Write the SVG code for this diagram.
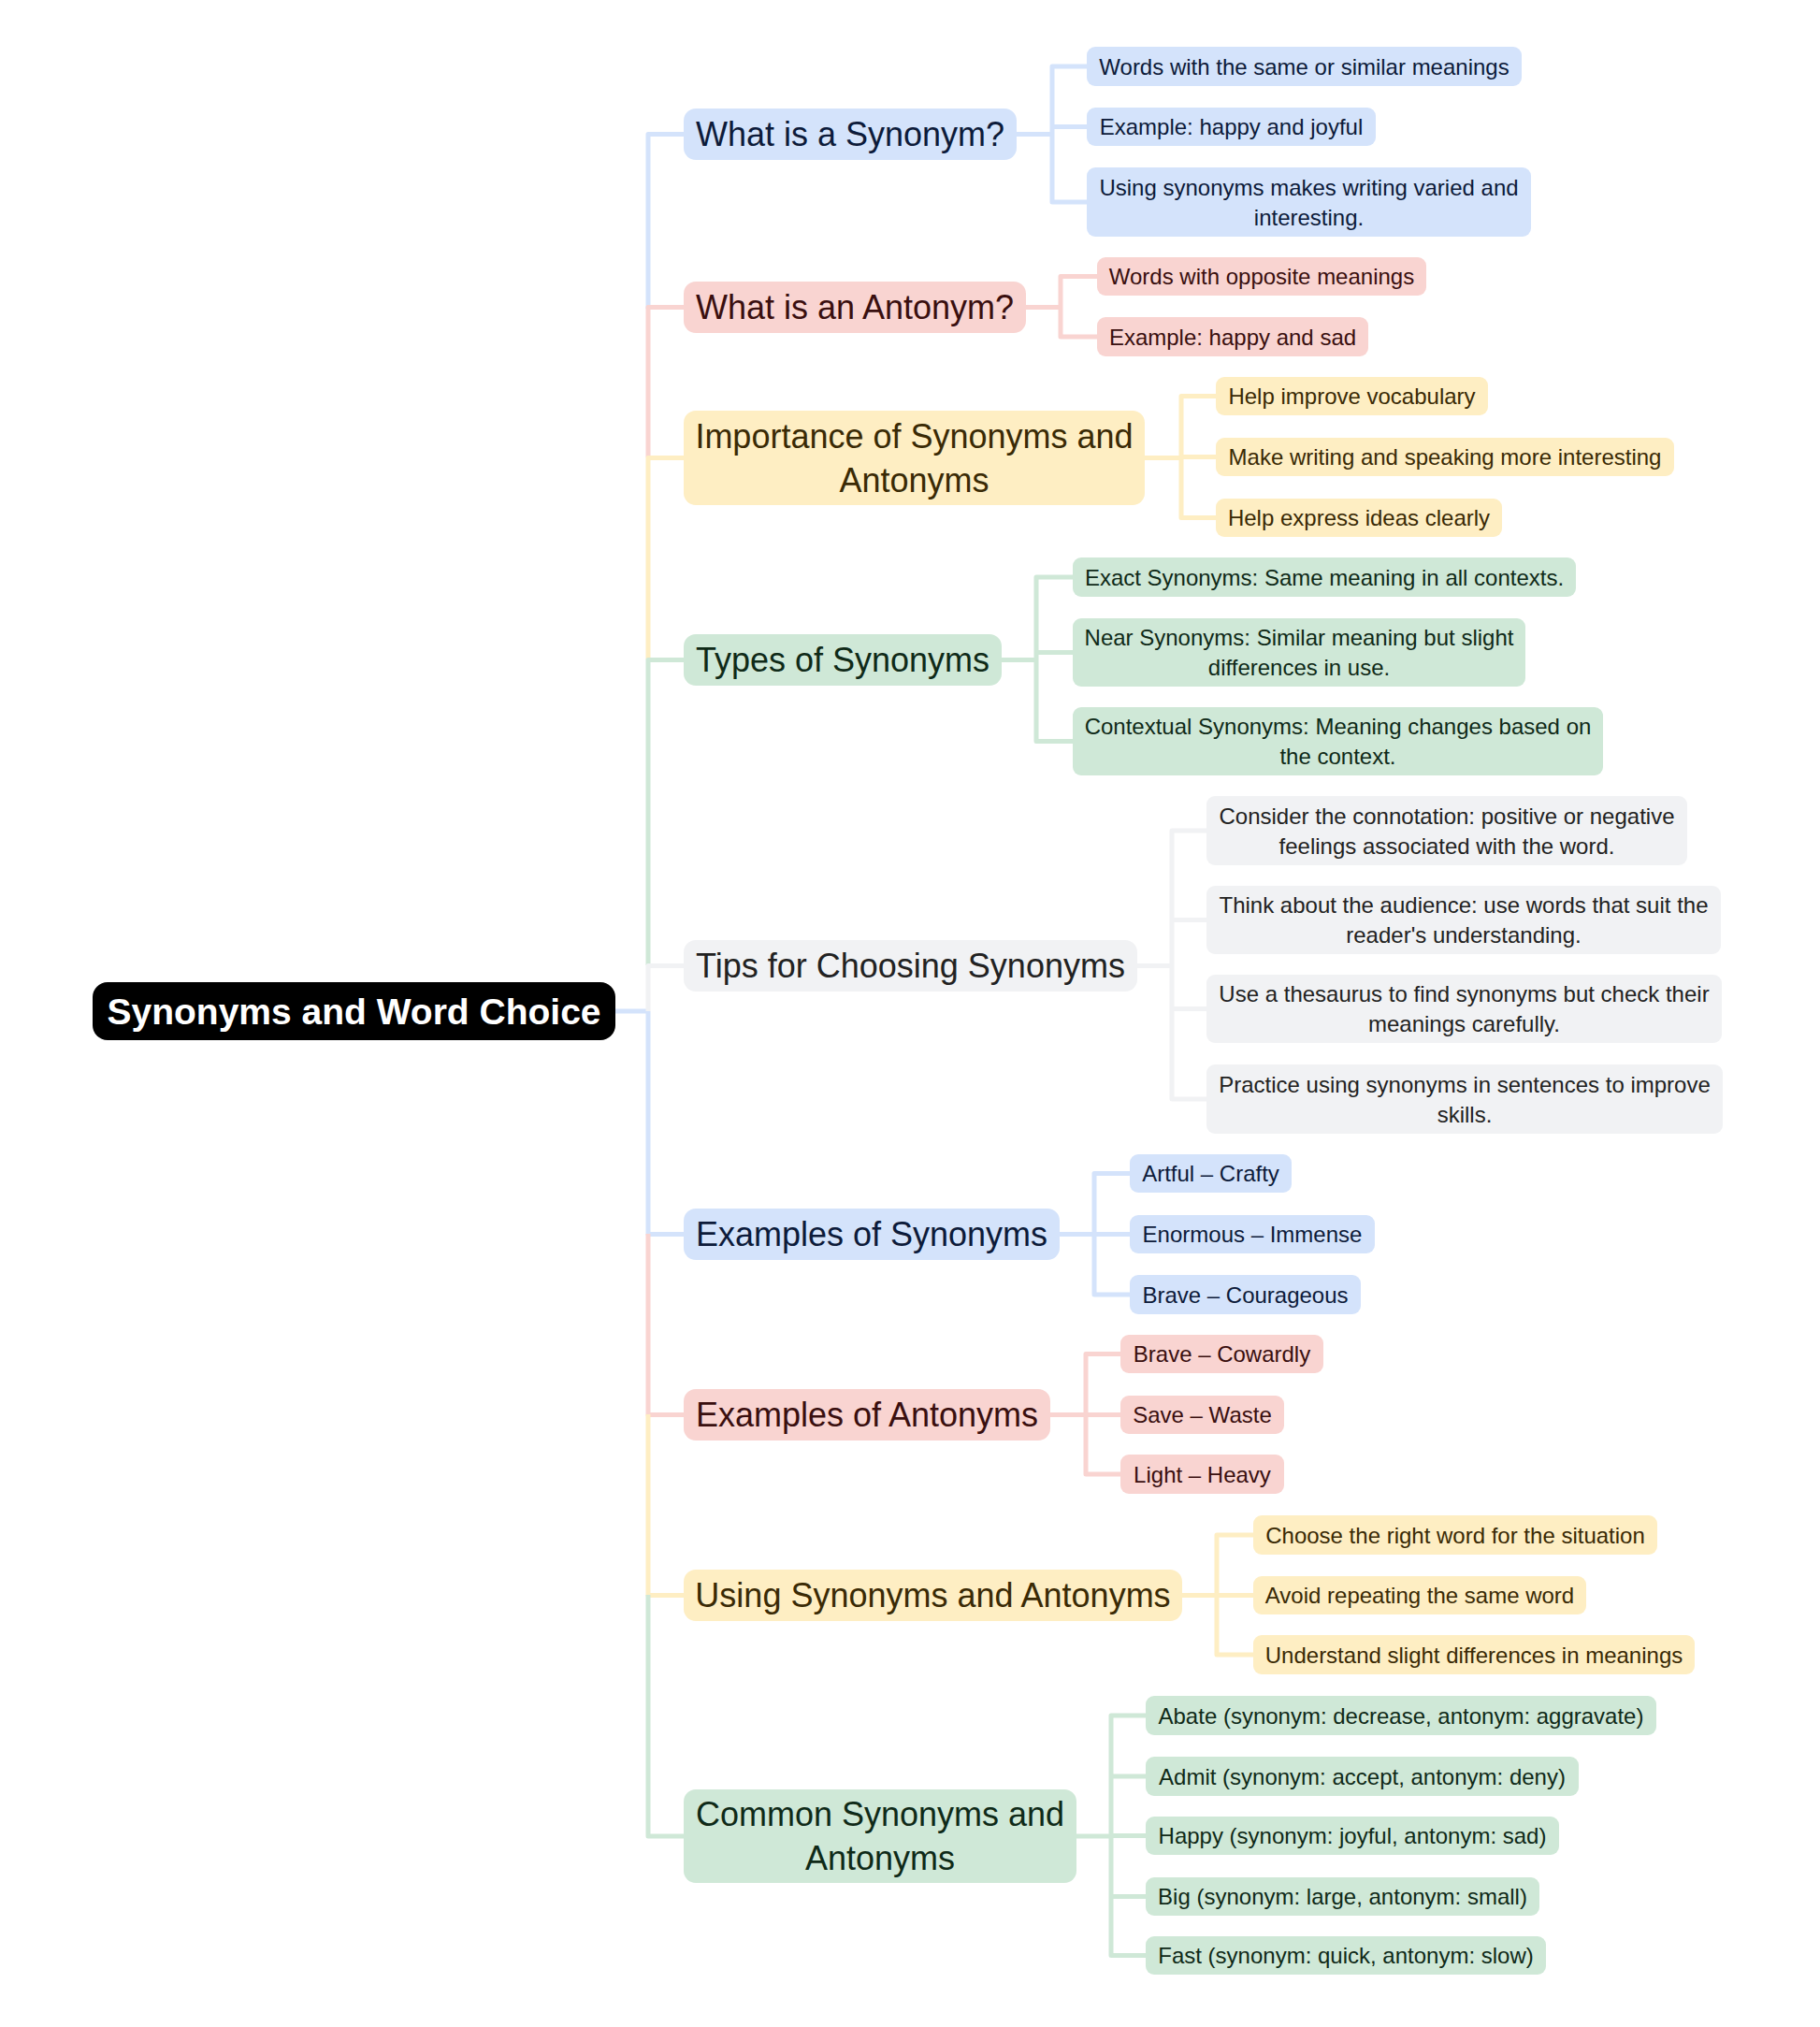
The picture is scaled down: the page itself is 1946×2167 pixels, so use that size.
<svg xmlns="http://www.w3.org/2000/svg" width="1946" height="2167" viewBox="0 0 1946 2167">
<style>
text{font-family:"Liberation Sans",Arial,sans-serif;text-anchor:middle}
.t{font-size:36px}.l{font-size:24px}
.c path{fill:none;stroke-width:5;stroke-linejoin:round}
.b{fill:#d4e3fb}.r{fill:#f9d4d1}.y{fill:#feeec3}.g{fill:#cfe8d7}.k{fill:#f1f2f4}
.bt{fill:#0d1b3a}.rt{fill:#3a0f0f}.yt{fill:#3a2a05}.gt{fill:#0f2a18}.kt{fill:#222}
.sb{stroke:#d4e3fb}.sr{stroke:#f9d4d1}.sy{stroke:#feeec3}.sg{stroke:#cfe8d7}.sk{stroke:#f1f2f4}
</style>
<rect width="1946" height="2167" fill="#fff"/>
<g class="c" id="connectors">
<path class="sb" d="M658 1081H693"/>
<path class="sb" d="M693 330V143.5H731"/>
<path class="sr" d="M693 489V328.5H731"/>
<path class="sy" d="M693 705V489.5H731"/>
<path class="sg" d="M693 1032V705.5H731"/>
<path class="sk" d="M693 1081V1032.5H731"/>
<path class="sb" d="M693 1081V1319.5H731"/>
<path class="sr" d="M693 1319V1512.5H731"/>
<path class="sy" d="M693 1512V1705.5H731"/>
<path class="sg" d="M693 1705V1963H731"/>
<path class="sb" d="M1087 143.5H1125M1162 71H1125V216H1162M1125 135.5H1162"/>
<path class="sr" d="M1097 328.5H1134M1173 295.5H1134V360H1173"/>
<path class="sy" d="M1224 489.5H1263M1300 423.5H1263V553.5H1300M1263 488.5H1300"/>
<path class="sg" d="M1071 705.5H1108M1147 617H1108V792.5H1147M1108 697.5H1147"/>
<path class="sk" d="M1216 1032.5H1253M1290 888H1253V1175H1290M1253 983.5H1290M1253 1078.5H1290"/>
<path class="sb" d="M1133 1319.5H1170M1208 1254.5H1170V1384H1208M1170 1319.5H1208"/>
<path class="sr" d="M1123 1512.5H1161M1198 1447.5H1161V1576H1198M1161 1512.5H1198"/>
<path class="sy" d="M1264 1705.5H1301M1340 1641H1301V1769H1340M1301 1705.5H1340"/>
<path class="sg" d="M1151 1963H1188M1225 1834H1188V2090.5H1225M1188 1899H1225M1188 1962.5H1225M1188 2027.5H1225"/>
</g>
<g id="root"><rect x="99" y="1050" width="559" height="62" rx="16" fill="#000"/><text x="378.5" y="1095" font-size="39" font-weight="bold" fill="#fff">Synonyms and Word Choice</text></g>
<g id="t1"><rect class="b" x="731" y="116" width="356" height="55" rx="13"/><text class="t bt" x="909" y="156">What is a Synonym?</text></g>
<g id="t1a"><rect class="b" x="1162" y="50" width="465" height="42" rx="9"/><text class="l bt" x="1394.5" y="79.5">Words with the same or similar meanings</text></g>
<g id="t1b"><rect class="b" x="1162" y="115" width="309" height="41" rx="9"/><text class="l bt" x="1316.5" y="144">Example: happy and joyful</text></g>
<g id="t1c"><rect class="b" x="1162" y="179" width="475" height="74" rx="9"/><text class="l bt" x="1399.5" y="208.5">Using synonyms makes writing varied and</text><text class="l bt" x="1399.5" y="240.5">interesting.</text></g>
<g id="t2"><rect class="r" x="731" y="301" width="366" height="55" rx="13"/><text class="t rt" x="914" y="341">What is an Antonym?</text></g>
<g id="t2a"><rect class="r" x="1173" y="275" width="352" height="41" rx="9"/><text class="l rt" x="1349" y="304">Words with opposite meanings</text></g>
<g id="t2b"><rect class="r" x="1173" y="339" width="290" height="42" rx="9"/><text class="l rt" x="1318" y="368.5">Example: happy and sad</text></g>
<g id="t3"><rect class="y" x="731" y="439" width="493" height="101" rx="13"/><text class="t yt" x="977.5" y="478.5">Importance of Synonyms and</text><text class="t yt" x="977.5" y="525.5">Antonyms</text></g>
<g id="t3a"><rect class="y" x="1300" y="403" width="291" height="41" rx="9"/><text class="l yt" x="1445.5" y="432">Help improve vocabulary</text></g>
<g id="t3b"><rect class="y" x="1300" y="468" width="490" height="41" rx="9"/><text class="l yt" x="1545" y="497">Make writing and speaking more interesting</text></g>
<g id="t3c"><rect class="y" x="1300" y="533" width="306" height="41" rx="9"/><text class="l yt" x="1453" y="562">Help express ideas clearly</text></g>
<g id="t4"><rect class="g" x="731" y="678" width="340" height="55" rx="13"/><text class="t gt" x="901" y="718">Types of Synonyms</text></g>
<g id="t4a"><rect class="g" x="1147" y="596" width="538" height="42" rx="9"/><text class="l gt" x="1416" y="625.5">Exact Synonyms: Same meaning in all contexts.</text></g>
<g id="t4b"><rect class="g" x="1147" y="661" width="484" height="73" rx="9"/><text class="l gt" x="1389" y="690">Near Synonyms: Similar meaning but slight</text><text class="l gt" x="1389" y="722">differences in use.</text></g>
<g id="t4c"><rect class="g" x="1147" y="756" width="567" height="73" rx="9"/><text class="l gt" x="1430.5" y="785">Contextual Synonyms: Meaning changes based on</text><text class="l gt" x="1430.5" y="817">the context.</text></g>
<g id="t5"><rect class="k" x="731" y="1005" width="485" height="55" rx="13"/><text class="t kt" x="973.5" y="1045">Tips for Choosing Synonyms</text></g>
<g id="t5a"><rect class="k" x="1290" y="851" width="514" height="74" rx="9"/><text class="l kt" x="1547" y="880.5">Consider the connotation: positive or negative</text><text class="l kt" x="1547" y="912.5">feelings associated with the word.</text></g>
<g id="t5b"><rect class="k" x="1290" y="947" width="550" height="73" rx="9"/><text class="l kt" x="1565" y="976">Think about the audience: use words that suit the</text><text class="l kt" x="1565" y="1008">reader's understanding.</text></g>
<g id="t5c"><rect class="k" x="1290" y="1042" width="551" height="73" rx="9"/><text class="l kt" x="1565.5" y="1071">Use a thesaurus to find synonyms but check their</text><text class="l kt" x="1565.5" y="1103">meanings carefully.</text></g>
<g id="t5d"><rect class="k" x="1290" y="1138" width="552" height="74" rx="9"/><text class="l kt" x="1566" y="1167.5">Practice using synonyms in sentences to improve</text><text class="l kt" x="1566" y="1199.5">skills.</text></g>
<g id="t6"><rect class="b" x="731" y="1292" width="402" height="55" rx="13"/><text class="t bt" x="932" y="1332">Examples of Synonyms</text></g>
<g id="t6a"><rect class="b" x="1208" y="1234" width="173" height="41" rx="9"/><text class="l bt" x="1294.5" y="1263">Artful – Crafty</text></g>
<g id="t6b"><rect class="b" x="1208" y="1299" width="262" height="41" rx="9"/><text class="l bt" x="1339" y="1328">Enormous – Immense</text></g>
<g id="t6c"><rect class="b" x="1208" y="1363" width="247" height="42" rx="9"/><text class="l bt" x="1331.5" y="1392.5">Brave – Courageous</text></g>
<g id="t7"><rect class="r" x="731" y="1485" width="392" height="55" rx="13"/><text class="t rt" x="927" y="1525">Examples of Antonyms</text></g>
<g id="t7a"><rect class="r" x="1198" y="1427" width="217" height="41" rx="9"/><text class="l rt" x="1306.5" y="1456">Brave – Cowardly</text></g>
<g id="t7b"><rect class="r" x="1198" y="1492" width="175" height="41" rx="9"/><text class="l rt" x="1285.5" y="1521">Save – Waste</text></g>
<g id="t7c"><rect class="r" x="1198" y="1555" width="175" height="42" rx="9"/><text class="l rt" x="1285.5" y="1584.5">Light – Heavy</text></g>
<g id="t8"><rect class="y" x="731" y="1678" width="533" height="55" rx="13"/><text class="t yt" x="997.5" y="1718">Using Synonyms and Antonyms</text></g>
<g id="t8a"><rect class="y" x="1340" y="1620" width="432" height="42" rx="9"/><text class="l yt" x="1556" y="1649.5">Choose the right word for the situation</text></g>
<g id="t8b"><rect class="y" x="1340" y="1685" width="356" height="41" rx="9"/><text class="l yt" x="1518" y="1714">Avoid repeating the same word</text></g>
<g id="t8c"><rect class="y" x="1340" y="1748" width="472" height="42" rx="9"/><text class="l yt" x="1576" y="1777.5">Understand slight differences in meanings</text></g>
<g id="t9"><rect class="g" x="731" y="1913" width="420" height="100" rx="13"/><text class="t gt" x="941" y="1952">Common Synonyms and</text><text class="t gt" x="941" y="1999">Antonyms</text></g>
<g id="t9a"><rect class="g" x="1225" y="1813" width="546" height="42" rx="9"/><text class="l gt" x="1498" y="1842.5">Abate (synonym: decrease, antonym: aggravate)</text></g>
<g id="t9b"><rect class="g" x="1225" y="1878" width="463" height="42" rx="9"/><text class="l gt" x="1456.5" y="1907.5">Admit (synonym: accept, antonym: deny)</text></g>
<g id="t9c"><rect class="g" x="1225" y="1942" width="442" height="41" rx="9"/><text class="l gt" x="1446" y="1971">Happy (synonym: joyful, antonym: sad)</text></g>
<g id="t9d"><rect class="g" x="1225" y="2007" width="421" height="41" rx="9"/><text class="l gt" x="1435.5" y="2036">Big (synonym: large, antonym: small)</text></g>
<g id="t9e"><rect class="g" x="1225" y="2070" width="428" height="41" rx="9"/><text class="l gt" x="1439" y="2099">Fast (synonym: quick, antonym: slow)</text></g>
</svg>
